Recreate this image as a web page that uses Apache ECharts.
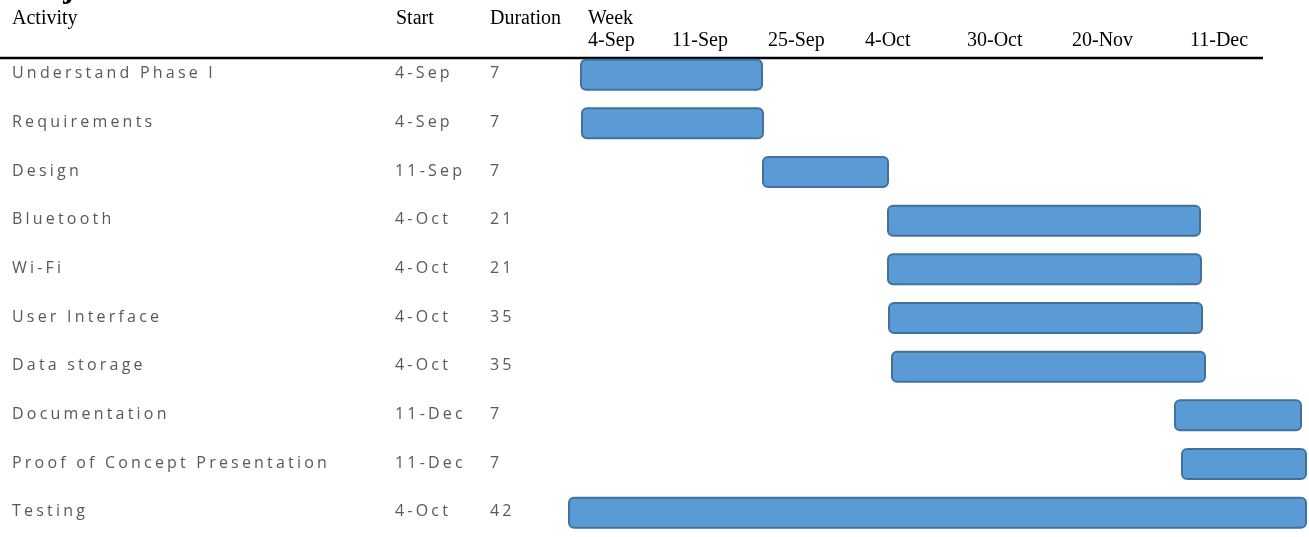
<!DOCTYPE html>
<html>
<head>
<meta charset="utf-8">
<script src="https://cdn.jsdelivr.net/npm/echarts@6/dist/echarts.min.js"></script>
<style>
  html, body { margin: 0; padding: 0; background: #fff; }
  #chart { width: 1309px; height: 537px; }
</style>
</head>
<body>
<div id="chart"></div>
<script>
const activities = ['Understand Phase I', 'Requirements', 'Design', 'Bluetooth', 'Wi-Fi',
  'User Interface', 'Data storage', 'Documentation', 'Proof of Concept Presentation', 'Testing'];
const startDates = ['4-Sep', '4-Sep', '11-Sep', '4-Oct', '4-Oct', '4-Oct', '4-Oct', '11-Dec', '11-Dec', '4-Oct'];
const durations = [7, 7, 7, 21, 21, 35, 35, 7, 7, 42];

// bars as drawn, in week-column units (0 = left edge of the 4-Sep column)
const barStart = [-0.07, -0.06, 1.75, 3.00, 3.00, 3.01, 3.04, 5.87, 5.94, -0.19];
const barEnd = [1.74, 1.75, 3.00, 6.12, 6.13, 6.14, 6.17, 7.13, 7.18, 7.18];

const weekLabels = ['4-Sep', '11-Sep', '25-Sep', '4-Oct', '30-Oct', '20-Nov', '11-Dec'];
const weekPos = [0, 0.84, 1.80, 2.77, 3.79, 4.84, 6.02];

// the row text is letter-spaced like the original table
const rawFillText = CanvasRenderingContext2D.prototype.fillText;
CanvasRenderingContext2D.prototype.fillText = function (t, x, y, w) {
  this.letterSpacing = this.font.indexOf('Open Sans') >= 0 ? '3.2px' : '0px';
  return w === undefined ? rawFillText.call(this, t, x, y) : rawFillText.call(this, t, x, y, w);
};

const serif = 'Liberation Serif';
const rowFont = { fontFamily: 'Open Sans', fontSize: 16, fill: '#595959' };
const headFont = { fontFamily: serif, fontSize: 20, fill: '#000', verticalAlign: 'middle' };

const chart = echarts.init(document.getElementById('chart'));

chart.setOption({
  animation: false,
  grid: { left: 558, top: 50.3, width: 750, height: 494 },
  xAxis: {
    type: 'value',
    position: 'top',
    min: -0.3,
    max: 7.2,
    axisLine: { show: false },
    axisTick: { show: false },
    splitLine: { show: false },
    axisLabel: { show: false }
  },
  yAxis: {
    type: 'category',
    inverse: true,
    data: activities,
    axisLine: { show: false },
    axisTick: { show: false },
    axisLabel: { show: false },
    splitLine: { show: false }
  },
  graphic: [
    { type: 'text', left: 14, top: -27, style: { text: 'Project Schedule', fontFamily: serif, fontWeight: 'bold', fontSize: 32, fill: '#000' } },
    { type: 'text', x: 12, y: 19, style: Object.assign({ text: 'Activity' }, headFont) },
    { type: 'text', x: 396, y: 19, style: Object.assign({ text: 'Start' }, headFont) },
    { type: 'text', x: 490, y: 19, style: Object.assign({ text: 'Duration' }, headFont) },
    { type: 'text', x: 588, y: 19, style: Object.assign({ text: 'Week' }, headFont) },
    { type: 'line', shape: { x1: 0, y1: 58, x2: 1263, y2: 58 }, style: { stroke: '#000', lineWidth: 2.5 } }
  ],
  series: [
    {
      type: 'custom',
      name: 'weeks',
      data: weekPos.map((p, i) => [p, i]),
      encode: { x: 0 },
      renderItem: (params, api) => ({
        type: 'text',
        x: api.coord([api.value(0), 0])[0],
        y: 41,
        style: Object.assign({ text: weekLabels[api.value(1)] }, headFont)
      })
    },
    {
      type: 'custom',
      name: 'table',
      data: activities.map((a, i) => [0, i]),
      encode: { x: 0, y: 1 },
      renderItem: (params, api) => {
        const i = api.value(1);
        const y = api.coord([0, i])[1] - 1;
        const txt = (x, s) => ({
          type: 'text', x: x, y: y,
          style: Object.assign({ text: String(s), verticalAlign: 'middle' }, rowFont)
        });
        return {
          type: 'group',
          children: [txt(12, activities[i]), txt(395, startDates[i]), txt(490, durations[i])]
        };
      }
    },
    {
      type: 'custom',
      name: 'bars',
      data: activities.map((a, i) => [barStart[i], barEnd[i], i]),
      encode: { x: [0, 1], y: 2 },
      renderItem: (params, api) => {
        const a = api.coord([api.value(0), api.value(2)]);
        const b = api.coord([api.value(1), api.value(2)]);
        return {
          type: 'rect',
          shape: { x: a[0], y: a[1] - 15, width: b[0] - a[0], height: 30, r: 5 },
          style: { fill: '#5B9BD5', stroke: '#41719C', lineWidth: 2 }
        };
      }
    }
  ]
});
</script>
</body>
</html>
